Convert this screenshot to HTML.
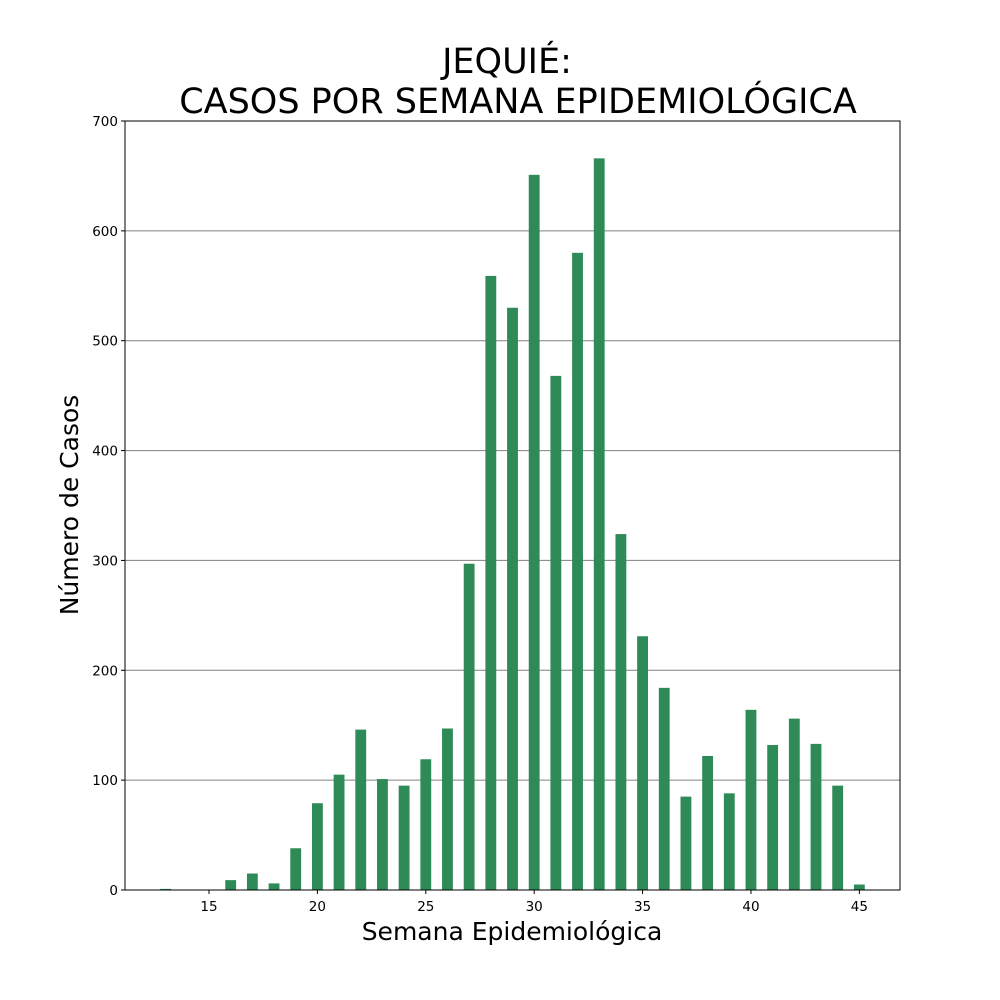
<!DOCTYPE html>
<html><head><meta charset="utf-8"><style>
body{margin:0;background:#fff;}
svg{display:block;font-family:"DejaVu Sans","Liberation Sans",sans-serif;}
</style></head><body>
<svg id="chart" width="1000" height="1000">
<rect width="1000" height="1000" fill="#fff"/>
<text x="507" y="73" font-size="35" text-anchor="middle">JEQUIÉ:</text>
<text x="518" y="113" font-size="35" text-anchor="middle">CASOS POR SEMANA EPIDEMIOLÓGICA</text>
<g id="grid"></g><g id="bars"></g><g id="axes"></g>
<text x="512" y="940" font-size="25" text-anchor="middle">Semana Epidemiológica</text>
<text transform="translate(78,505) rotate(-90)" font-size="25" text-anchor="middle">Número de Casos</text>
</svg>
<script>
const weeks=[13,14,15,16,17,18,19,20,21,22,23,24,25,26,27,28,29,30,31,32,33,34,35,36,37,38,39,40,41,42,43,44,45];
const cases=[1,0,0,9,15,6,38,79,105,146,101,95,119,147,297,559,530,651,468,580,666,324,231,184,85,122,88,164,132,156,133,95,5];
const xTicks=[15,20,25,30,35,40,45];
const yTicks=[0,100,200,300,400,500,600,700];
const L=125,R=900,T=121,B=890,xmin=11.125,xmax=46.875,ymax=700;
const xs=v=>L+(v-xmin)/(xmax-xmin)*(R-L);
const ys=v=>B-v/ymax*(B-T);
const NS="http://www.w3.org/2000/svg";
function mk(t,a,p){const e=document.createElementNS(NS,t);for(const k in a)e.setAttribute(k,a[k]);p.appendChild(e);return e;}
const grid=document.getElementById('grid'),bars=document.getElementById('bars'),axes=document.getElementById('axes');
yTicks.forEach(v=>{
 const g=mk('line',{x1:L,x2:R,y1:ys(v),y2:ys(v),stroke:'#808080','stroke-width':1},grid);
 
 
 const t=mk('line',{x1:L-4,x2:L,y1:ys(v),y2:ys(v),stroke:'#000'},axes);
 
 
 const l=mk('text',{x:L-7,y:ys(v)+5,'font-size':13.5,'text-anchor':'end'},axes);l.textContent=v;
 
 
});
const bw=(xs(1)-xs(0))*0.5;
weeks.forEach((w,i)=>{
 const r=mk('rect',{x:xs(w)-bw/2,y:ys(cases[i]),width:bw,height:B-ys(cases[i]),fill:'#2e8b57'},bars);
 
 
});
xTicks.forEach(v=>{
 const t=mk('line',{x1:xs(v),x2:xs(v),y1:B,y2:B+4,stroke:'#000'},axes);
 
 
 const l=mk('text',{x:xs(v),y:B+21,'font-size':13.5,'text-anchor':'middle'},axes);l.textContent=v;
 
 
});
const f=mk('rect',{x:L,y:T,width:R-L,height:B-T,fill:'none',stroke:'#000','stroke-width':1},axes);


</script>
</body></html>
